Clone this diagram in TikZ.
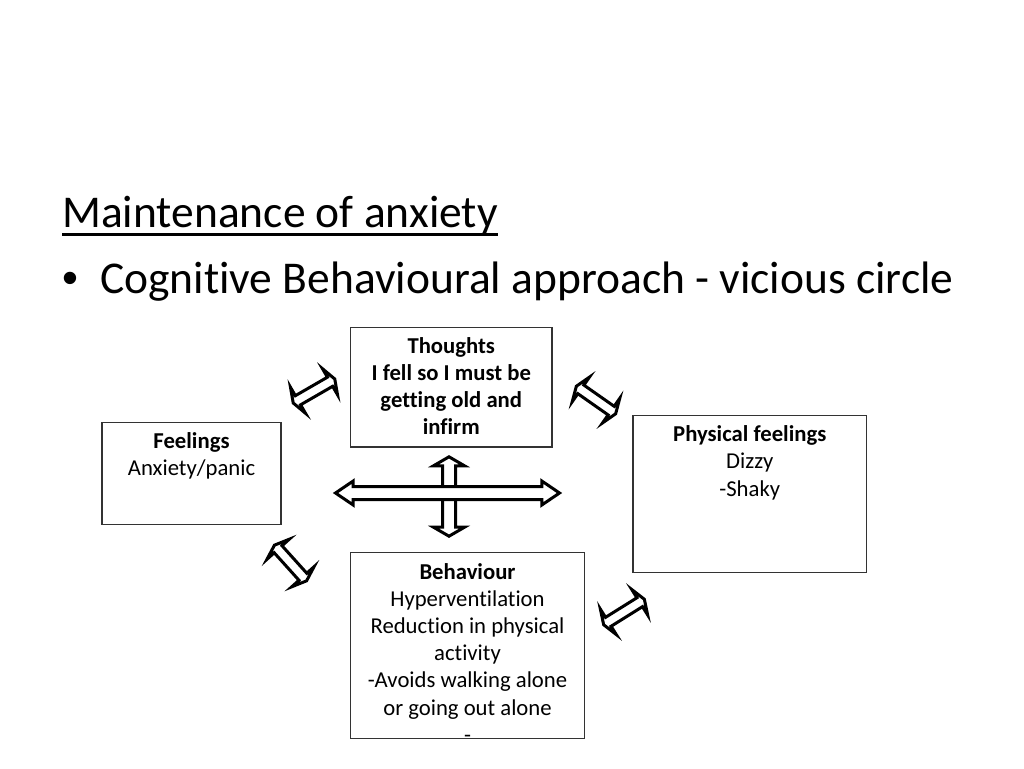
\documentclass[tikz,border=0pt]{standalone}
\usepackage{fontspec}
\setmainfont{Carlito}[Ligatures=NoCommon]
\newfontfamily\bulletfont{Liberation Sans}
\usetikzlibrary{positioning, calc}
\newcommand{\titlesize}{\fontsize{45.5}{54.6}\selectfont}
\newcommand{\boxsize}{\fontsize{22.7}{27.2}\selectfont}
\tikzstyle{heading} = [anchor=base west, inner sep=0pt, font=\titlesize]
\tikzstyle{box} = [rectangle, draw=black!80, line width=1.2pt, fill=white, inner sep=0pt]
\tikzstyle{boxtext} = [align=flush center, anchor=base, inner sep=0pt, font=\boxsize]
\tikzstyle{arrowline} = [draw=black, line width=3pt, fill=white, line join=miter]
% block arrow: half length / half shaft / half head / head length
\tikzset{
  pics/blockarrow/.style args={#1/#2/#3/#4}{code={
    \path[arrowline] (-#1,0) -- (-#1+#4,-#3) -- (-#1+#4,-#2) -- (#1-#4,-#2) -- (#1-#4,-#3)
      -- (#1,0) -- (#1-#4,#3) -- (#1-#4,#2) -- (-#1+#4,#2) -- (-#1+#4,#3) -- cycle;
  }}
}

\begin{document}
\begin{tikzpicture}[x=1pt, y=-1pt]
\useasboundingbox (0,0) rectangle (1024,768);
\fill[white] (0,0) rectangle (1024,768);

% Heading
\node (title) [heading] at (62,227.7) {Maintenance of anxiety};
\draw [line width=2.4pt] ($(title.base west)+(0,6.6)$) -- ($(title.base east)+(0,6.6)$);
\node (bullet) [heading, font=\titlesize\bulletfont] at (62,293) {•};
\node (approach) [heading] at (100,293) {Cognitive Behavioural approach - vicious circle};

% Boxes
\node (thoughts) [box, minimum width=201.5pt, minimum height=119.5pt] at (451.25,387.25) {};
\node (feelings) [box, minimum width=179pt, minimum height=102pt] at (191.5,473.5) {};
\node (physical) [box, minimum width=233.5pt, minimum height=157pt] at (749.75,494) {};
\node (behaviour) [box, minimum width=234pt, minimum height=186pt] at (467.5,645.5) {};

% Box texts
\node (thoughtstext) [boxtext, text width=200pt] at ($(thoughts.north)+(0,26.4)$)
  {\textbf{Thoughts}\\\textbf{I fell so I must be}\\\textbf{getting old and}\\\textbf{infirm}};
\node (feelingstext) [boxtext, text width=178pt] at ($(feelings.north)+(0,26.8)$)
  {\textbf{Feelings}\\Anxiety/panic};
\node (physicaltext) [boxtext, text width=232pt] at ($(physical.north)+(0,26.8)$)
  {\textbf{Physical feelings}\\Dizzy\\-Shaky};
\node (behaviourtext) [boxtext, text width=232pt] at ($(behaviour.north)+(0,27.2)$)
  {\textbf{Behaviour}\\Hyperventilation\\Reduction in physical\\activity\\-Avoids walking alone\\or going out alone\\-};

% Central cross
\pic [rotate=90] at (449,496.5) {blockarrow={39.7/6.5/15.5/9}};
\pic at (447.5,493) {blockarrow={112/6.5/12/17.7}};

% Circle arrows
\pic [rotate=30] at (314,391) {blockarrow={24/5.25/15/5.5}};
\pic [rotate=-35] at (596,400) {blockarrow={24/5.25/15/5.5}};
\pic [rotate=-48] at (290.5,563) {blockarrow={24/5.25/15/5.5}};
\pic [rotate=32] at (624,612) {blockarrow={24/5.25/15/5.5}};

\end{tikzpicture}
\end{document}
